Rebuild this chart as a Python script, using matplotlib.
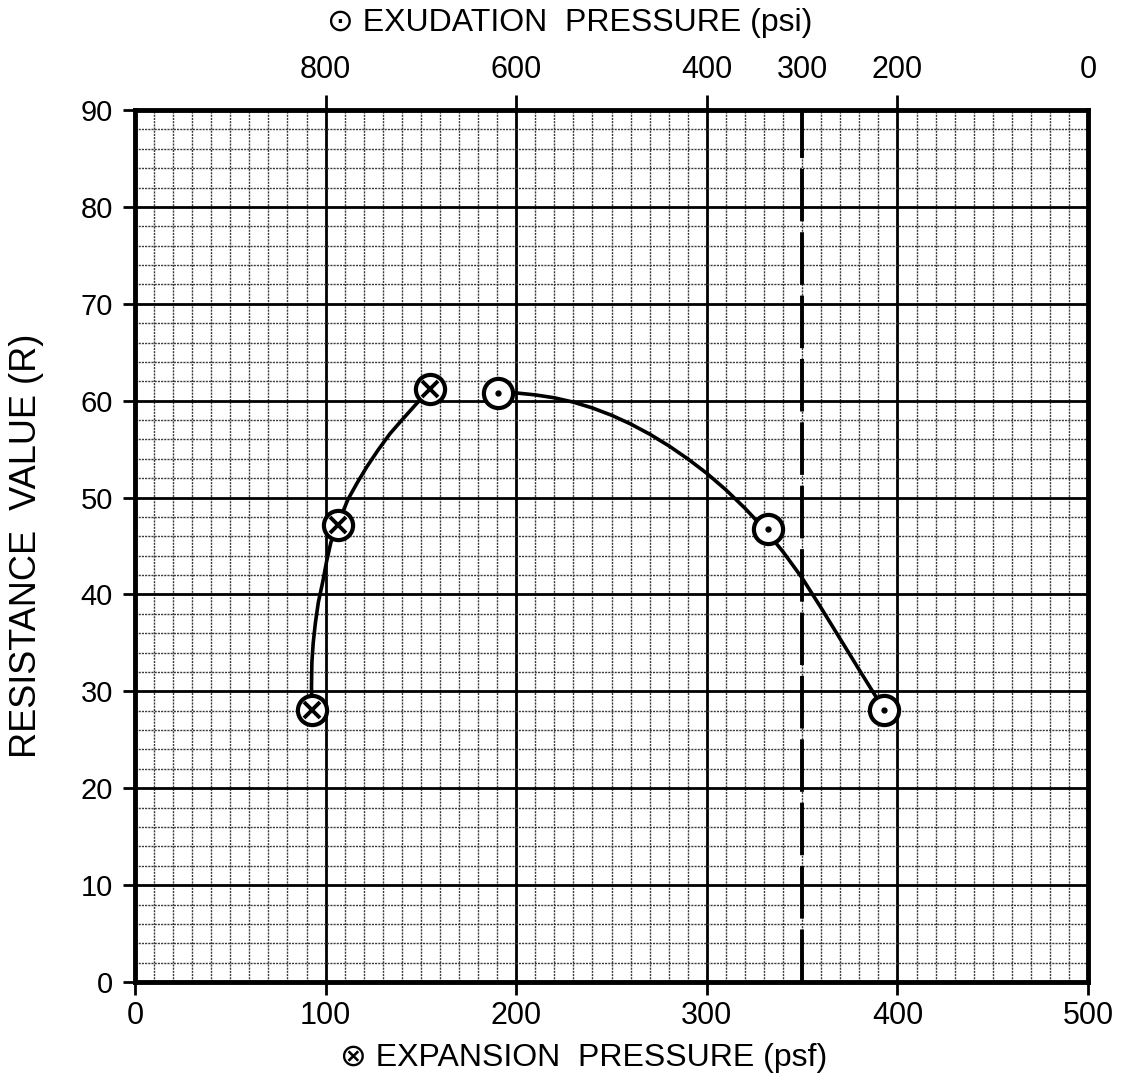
import matplotlib
matplotlib.use("Agg")
import matplotlib.pyplot as plt
import numpy as np

# ---- data ----
expansion_psf = [93.0, 106.5, 155.0]
expansion_R = [28.1, 47.2, 61.2]

exudation_psi = [619, 336, 214]
exudation_R = [60.8, 46.8, 28.1]

exp_curve_psf = [92.8, 92.6, 92.8, 93.5, 94.6, 96.2, 98.6, 100.5, 102.8, 106.5, 111.7,
                 116.5, 121.7, 127.5, 133.8, 140.0, 145.9, 150.5, 154.8]
exp_curve_R = [28.1, 30.5, 33.0, 35.0, 37.0, 39.2, 41.4, 43.4, 45.4, 47.3, 49.8,
               51.5, 53.2, 54.9, 56.6, 58.0, 59.3, 60.3, 61.2]

exu_curve_psi = [619, 600, 580, 560, 540, 520, 500, 480, 460, 440, 420,
                 400, 380, 360, 340, 320, 300, 280, 260, 240, 214]
exu_curve_R = [60.9, 60.8, 60.6, 60.3, 59.85, 59.25, 58.5, 57.6, 56.55, 55.35, 54.0,
               52.5, 50.8, 48.9, 46.8, 44.4, 41.7, 38.6, 35.4, 32.2, 28.1]

bottom_ticks = [0, 100, 200, 300, 400, 500]
left_ticks = [0, 10, 20, 30, 40, 50, 60, 70, 80, 90]
top_ticks = [800, 600, 400, 300, 200, 0]
design_psi = 300

REG = ['Liberation Sans', 'DejaVu Sans']

fig = plt.figure(figsize=(11.23, 10.82), dpi=100)
ax = fig.add_axes([0.1202, 0.0924, 0.9689 - 0.1202, 0.8983 - 0.0924])
ax.set_xlim(0, 500)
ax.set_ylim(0, 90)

# grid
ax.set_xticks(bottom_ticks)
ax.set_yticks(left_ticks)
ax.set_xticks(np.arange(0, 501, 10), minor=True)
ax.set_yticks(np.arange(0, 91, 2), minor=True)
ax.grid(which='minor', color='#3a3a3a', linewidth=1.0, linestyle=(0, (1.5, 0.8)), zorder=0)
ax.grid(which='major', color='black', linewidth=2.0, linestyle='-', zorder=0.5)
ax.tick_params(which='minor', length=0)
ax.tick_params(which='major', direction='out', length=9, width=2.0, color='black')
ax.tick_params(axis='x', pad=5)
ax.tick_params(axis='y', pad=7)
ax.set_axisbelow(True)

for lab in ax.get_xticklabels():
    lab.set_family(REG)
    lab.set_fontsize(22)
for lab in ax.get_yticklabels():
    lab.set_family(REG)
    lab.set_fontsize(21)
xt = ax.xaxis.get_major_ticks()
xt[0].tick1line.set_visible(False)
xt[-1].tick1line.set_visible(False)

for sp in ax.spines.values():
    sp.set_linewidth(3.5)
    sp.set_zorder(5)

ax.set_ylabel('RESISTANCE  VALUE (R)', fontsize=26, family=REG, labelpad=26)

# top axis (exudation pressure, psi)
ax2 = ax.twiny()
ax2.set_xlim(1000, 0)
ax2.set_xticks(top_ticks)
ax2.tick_params(direction='out', length=11, width=2.0, pad=7)
for lab in ax2.get_xticklabels():
    lab.set_family(REG)
    lab.set_fontsize(22)
tt = ax2.xaxis.get_major_ticks()
for i, v in enumerate(top_ticks):
    if v in (300, 0):
        tt[i].tick2line.set_visible(False)
for sp in ax2.spines.values():
    sp.set_visible(False)

# design line at 300 psi
ax2.axvline(design_psi, color='black', linewidth=2.8, linestyle=(0, (13.5, 2.8)), zorder=3)

# curves
ax.plot(exp_curve_psf, exp_curve_R, color='black', linewidth=2.6, zorder=4,
        solid_capstyle='round', solid_joinstyle='round')
ax2.plot(exu_curve_psi, exu_curve_R, color='black', linewidth=2.6, zorder=4,
         solid_capstyle='round', solid_joinstyle='round')

# markers
ax.plot(expansion_psf, expansion_R, linestyle='none', marker='o', markersize=21,
        markerfacecolor='white', markeredgecolor='black', markeredgewidth=3.0, zorder=6)
ax.plot(expansion_psf, expansion_R, linestyle='none', marker='x', markersize=12,
        markeredgecolor='black', markeredgewidth=2.8, zorder=7)
ax2.plot(exudation_psi, exudation_R, linestyle='none', marker='o', markersize=21,
         markerfacecolor='white', markeredgecolor='black', markeredgewidth=3.0, zorder=6)
ax2.plot(exudation_psi, exudation_R, linestyle='none', marker='o', markersize=3.5,
         markerfacecolor='black', markeredgecolor='black', zorder=7)

# axis titles
fig.text(570 / 1123, 1 - 23 / 1082, '\u2299 EXUDATION  PRESSURE (psi)', ha='center', va='center',
         fontsize=23, family=REG)
fig.text(584 / 1123, 1 - 1058 / 1082, '\u2297 EXPANSION  PRESSURE (psf)', ha='center', va='center',
         fontsize=23, family=REG)

fig.savefig('out.png', dpi=100, facecolor='white')
